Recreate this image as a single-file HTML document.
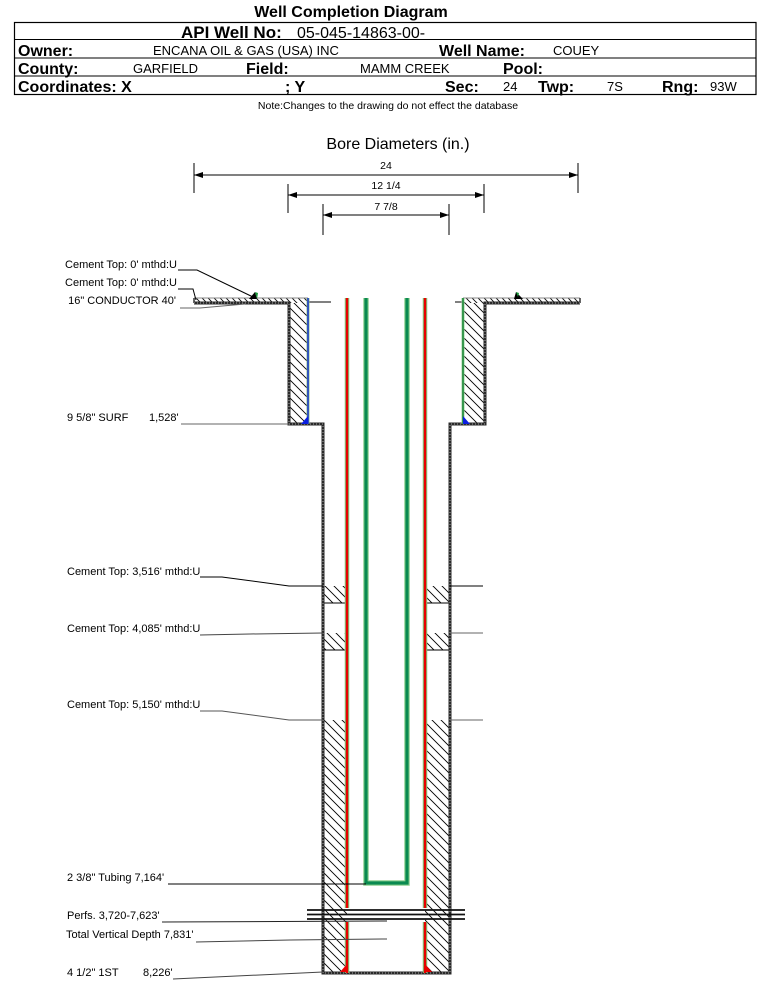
<!DOCTYPE html>
<html>
<head>
<meta charset="utf-8">
<style>
  html, body { margin: 0; padding: 0; background: #fff; }
  svg { display: block; }
  text { font-family: "Liberation Sans", Arial, sans-serif; fill: #000; }
  .b { font-weight: bold; }
</style>
</head>
<body>
<svg width="759" height="981" viewBox="0 0 759 981" xmlns="http://www.w3.org/2000/svg">
  <defs>
    <pattern id="h" patternUnits="userSpaceOnUse" width="9" height="9">
      <path d="M-2,-2 L11,11 M-2,7 L2,11 M7,-2 L11,2" stroke="#000" stroke-width="0.9" fill="none"/>
    </pattern>
    <pattern id="hf" patternUnits="userSpaceOnUse" width="6" height="6">
      <path d="M-2,-2 L8,8 M-2,4 L2,8 M4,-2 L8,2" stroke="#000" stroke-width="0.8" fill="none"/>
    </pattern>
  </defs>

  <!-- Title -->
  <text x="351" y="17" font-size="16" class="b" text-anchor="middle">Well Completion Diagram</text>

  <!-- Header table -->
  <rect x="14.5" y="22.5" width="741.5" height="72" fill="none" stroke="#000" stroke-width="1.2"/>
  <line x1="14.5" y1="39.5" x2="756" y2="39.5" stroke="#000" stroke-width="1"/>
  <line x1="14.5" y1="58" x2="756" y2="58" stroke="#000" stroke-width="1"/>
  <line x1="14.5" y1="76" x2="756" y2="76" stroke="#000" stroke-width="1"/>

  <text x="181" y="38" font-size="17" class="b">API Well No:</text>
  <text x="297" y="38" font-size="16">05-045-14863-00-</text>

  <text x="18" y="56" font-size="16" class="b">Owner:</text>
  <text x="153" y="55" font-size="13">ENCANA OIL &amp; GAS (USA) INC</text>
  <text x="439" y="56" font-size="16" class="b">Well Name:</text>
  <text x="553" y="55" font-size="13">COUEY</text>

  <text x="18" y="74" font-size="16" class="b">County:</text>
  <text x="133" y="73" font-size="13">GARFIELD</text>
  <text x="246" y="74" font-size="16" class="b">Field:</text>
  <text x="360" y="73" font-size="13">MAMM CREEK</text>
  <text x="503" y="74" font-size="16" class="b">Pool:</text>

  <text x="18" y="92" font-size="16" class="b">Coordinates: X</text>
  <text x="285" y="92" font-size="16" class="b">; Y</text>
  <text x="445" y="92" font-size="16" class="b">Sec:</text>
  <text x="503" y="91" font-size="13">24</text>
  <text x="538" y="92" font-size="16" class="b">Twp:</text>
  <text x="607" y="91" font-size="13">7S</text>
  <text x="662" y="92" font-size="16" class="b">Rng:</text>
  <text x="710" y="91" font-size="13">93W</text>

  <text x="388" y="109" font-size="10.5" text-anchor="middle">Note:Changes to the drawing do not effect the database</text>

  <!-- Bore diameters -->
  <text x="398" y="149" font-size="16" text-anchor="middle">Bore Diameters (in.)</text>

  <g stroke="#000" stroke-width="1">
    <line x1="194" y1="163" x2="194" y2="193"/>
    <line x1="578" y1="163" x2="578" y2="193"/>
    <line x1="194" y1="175" x2="578" y2="175"/>
    <line x1="288" y1="184" x2="288" y2="213"/>
    <line x1="484" y1="184" x2="484" y2="213"/>
    <line x1="288" y1="195" x2="484" y2="195"/>
    <line x1="323" y1="204" x2="323" y2="235"/>
    <line x1="449" y1="204" x2="449" y2="235"/>
    <line x1="323" y1="215" x2="449" y2="215"/>
  </g>
  <g fill="#000">
    <polygon points="194,175 203,172 203,178"/>
    <polygon points="578,175 569,172 569,178"/>
    <polygon points="288,195 297,192 297,198"/>
    <polygon points="484,195 475,192 475,198"/>
    <polygon points="323,215 332,212 332,218"/>
    <polygon points="449,215 440,212 440,218"/>
  </g>
  <text x="386" y="169" font-size="10.5" text-anchor="middle">24</text>
  <text x="386" y="189" font-size="10.5" text-anchor="middle">12 1/4</text>
  <text x="386" y="210" font-size="10.5" text-anchor="middle">7 7/8</text>

  <!-- Conductor strips -->
  <rect x="194" y="298" width="114" height="5" fill="url(#hf)"/>
  <rect x="463" y="298" width="117" height="5" fill="url(#hf)"/>
  <line x1="194" y1="298" x2="308" y2="298" stroke="#888" stroke-width="1"/>
  <line x1="463" y1="298" x2="580" y2="298" stroke="#888" stroke-width="1"/>
  <line x1="194" y1="298" x2="194" y2="303" stroke="#333" stroke-width="1.5"/>
  <line x1="580" y1="298" x2="580" y2="303" stroke="#333" stroke-width="1.5"/>

  <!-- Surface casing cement -->
  <rect x="289" y="303" width="19" height="121" fill="url(#h)"/>
  <rect x="463" y="303" width="22" height="121" fill="url(#h)"/>

  <!-- Cement intervals in production annulus -->
  <rect x="323" y="586" width="24" height="17" fill="url(#h)"/>
  <rect x="425" y="586" width="25" height="17" fill="url(#h)"/>
  <rect x="323" y="633" width="24" height="17" fill="url(#h)"/>
  <rect x="425" y="633" width="25" height="17" fill="url(#h)"/>
  <rect x="323" y="720" width="24" height="253" fill="url(#h)"/>
  <rect x="425" y="720" width="25" height="253" fill="url(#h)"/>
  <g stroke="#000" stroke-width="1">
    <line x1="323" y1="603" x2="347" y2="603"/>
    <line x1="425" y1="603" x2="450" y2="603"/>
    <line x1="323" y1="650" x2="347" y2="650"/>
    <line x1="425" y1="650" x2="450" y2="650"/>
  </g>

  <!-- Well outline (thick dotted) -->
  <path d="M194,303 H289 V424 H323 V973 H450 V424 H485 V303 H580" fill="none" stroke="#2a2a2a" stroke-width="3"/>
  <path d="M194,303 H289 V424 H323 V973 H450 V424 H485 V303 H580" fill="none" stroke="#aaa" stroke-width="1" stroke-dasharray="1 2"/>

  <!-- Ground reference lines -->
  <line x1="308" y1="302" x2="331" y2="302" stroke="#000" stroke-width="1"/>
  <line x1="455" y1="302" x2="463" y2="302" stroke="#000" stroke-width="1"/>

  <!-- Surface casing lines -->
  <line x1="308" y1="298" x2="308" y2="424" stroke="#8fbf8f" stroke-width="3"/>
  <line x1="308" y1="298" x2="308" y2="424" stroke="#1a3cc8" stroke-width="1.6"/>
  <line x1="463" y1="298" x2="463" y2="424" stroke="#9fd09f" stroke-width="3"/>
  <line x1="463" y1="298" x2="463" y2="424" stroke="#1f8a3a" stroke-width="1.6"/>
  <polygon points="301,424 308,424 308,416" fill="#0a1ee0"/>
  <polygon points="463,416 463,424 470,424" fill="#0a1ee0"/>

  <!-- Conductor cement markers -->
  <polygon points="249,299 257,299 255,292" fill="#000"/>
  <polygon points="255,292 258,293 257,299" fill="#1a9a3a"/>
  <polygon points="514,299 523,299 516,292" fill="#000"/>
  <polygon points="516,292 519,293 518,297" fill="#1a9a3a"/>

  <!-- Production casing (red) -->
  <g stroke-linecap="butt">
    <line x1="347" y1="298" x2="347" y2="908" stroke="#7cc87c" stroke-width="4.5"/>
    <line x1="347" y1="922" x2="347" y2="973" stroke="#7cc87c" stroke-width="4.5"/>
    <line x1="425" y1="298" x2="425" y2="908" stroke="#7cc87c" stroke-width="4.5"/>
    <line x1="425" y1="922" x2="425" y2="973" stroke="#7cc87c" stroke-width="4.5"/>
    <line x1="347" y1="298" x2="347" y2="908" stroke="#e80000" stroke-width="2.4"/>
    <line x1="347" y1="922" x2="347" y2="973" stroke="#e80000" stroke-width="2.4"/>
    <line x1="425" y1="298" x2="425" y2="908" stroke="#e80000" stroke-width="2.4"/>
    <line x1="425" y1="922" x2="425" y2="973" stroke="#e80000" stroke-width="2.4"/>
  </g>
  <polygon points="340,972 348,972 348,963" fill="#e80000"/>
  <polygon points="424,963 424,972 432,972" fill="#e80000"/>

  <!-- Tubing -->
  <path d="M366,298 V883 H407 V298" fill="none" stroke="#8fd08f" stroke-width="5.5"/>
  <path d="M366,298 V883 H407 V298" fill="none" stroke="#0a8a50" stroke-width="3.2"/>

  <!-- Perforations -->
  <g stroke="#111" stroke-width="1.8">
    <line x1="307" y1="910" x2="465" y2="910"/>
    <line x1="307" y1="914.5" x2="465" y2="914.5"/>
    <line x1="307" y1="919" x2="465" y2="919"/>
  </g>

  <!-- Right side leaders -->
  <line x1="450" y1="586" x2="483" y2="586" stroke="#000" stroke-width="1"/>
  <line x1="450" y1="633" x2="483" y2="633" stroke="#666" stroke-width="1"/>
  <line x1="450" y1="720" x2="483" y2="720" stroke="#666" stroke-width="1"/>

  <!-- Left leaders -->
  <g fill="none" stroke-width="1">
    <polyline points="178,270 197,270 253,297" stroke="#000"/>
    <polyline points="178,289 193,289 196,300" stroke="#000"/>
    <polyline points="180,308 200,308 245,304" stroke="#666"/>
    <polyline points="181,424 289,424" stroke="#666"/>
    <polyline points="200,577 222,577 289,586 323,586" stroke="#000"/>
    <polyline points="200,635 250,634 323,633" stroke="#444"/>
    <polyline points="200,711 222,711 289,720 323,720" stroke="#555"/>
    <polyline points="168,884 366,884" stroke="#000"/>
    <polyline points="162,922 387,921" stroke="#222"/>
    <polyline points="196,942 290,940 387,939" stroke="#444"/>
    <polyline points="173,979 323,972" stroke="#444"/>
  </g>

  <!-- Left labels -->
  <g font-size="11">
    <text x="177" y="268" text-anchor="end">Cement Top: 0' mthd:U</text>
    <text x="177" y="286" text-anchor="end">Cement Top: 0' mthd:U</text>
    <text x="176" y="304" text-anchor="end">16" CONDUCTOR  40'</text>
    <text x="67" y="421">9 5/8" SURF</text>
    <text x="149" y="421">1,528'</text>
    <text x="67" y="575">Cement Top: 3,516' mthd:U</text>
    <text x="67" y="632">Cement Top: 4,085' mthd:U</text>
    <text x="67" y="708">Cement Top: 5,150' mthd:U</text>
    <text x="67" y="881">2 3/8" Tubing 7,164'</text>
    <text x="67" y="919">Perfs. 3,720-7,623'</text>
    <text x="66" y="938">Total Vertical Depth 7,831'</text>
    <text x="67" y="976">4 1/2" 1ST</text>
    <text x="143" y="976">8,226'</text>
  </g>
</svg>
</body>
</html>
